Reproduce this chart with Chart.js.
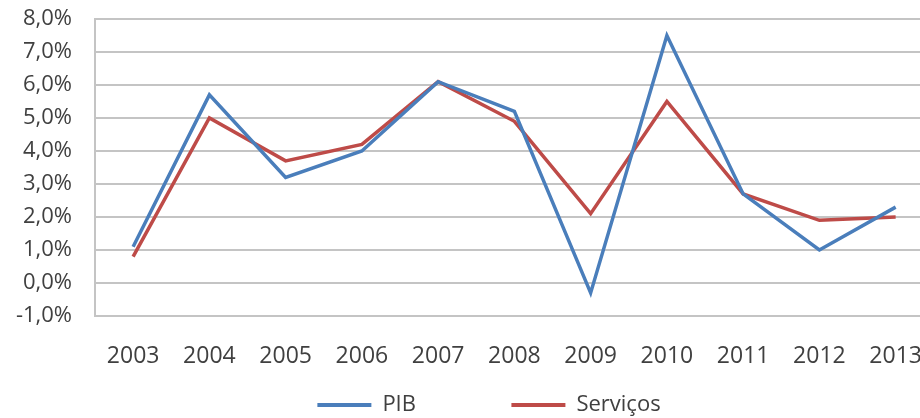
<!DOCTYPE html>
<html>
<head>
<meta charset="utf-8">
<script src="https://cdn.jsdelivr.net/npm/chart.js@4"></script>
<style>
  html, body { margin: 0; padding: 0; background: #fff; overflow: hidden; }
  #wrap { width: 941px; height: 418px; }
</style>
</head>
<body>
<div id="wrap"><canvas id="chart" width="941" height="418"></canvas></div>
<script>
const years = ['2003', '2004', '2005', '2006', '2007', '2008', '2009', '2010', '2011', '2012', '2013'];
const pib = [1.1, 5.7, 3.2, 4.0, 6.1, 5.2, -0.3, 7.5, 2.7, 1.0, 2.3];
const servicos = [0.8, 5.0, 3.7, 4.2, 6.1, 4.9, 2.1, 5.5, 2.7, 1.9, 2.0];
const yTicks = [-1, 0, 1, 2, 3, 4, 5, 6, 7, 8];

const fmt = (v) => v.toFixed(1).replace('.', ',') + '%';
const textColor = '#404040';
const gridColor = '#c4c4c4';
const yFont = { family: 'Open Sans', size: 22 };
const xFont = { family: 'Open Sans', size: 23 };

// the original legend sits a bit right of the canvas centre
const legendNudge = {
  id: 'legendNudge',
  afterLayout(chart) {
    chart.legend.left += 19;
    chart.legend.right += 19;
  },
};

const ctx = document.getElementById('chart').getContext('2d');
new Chart(ctx, {
  type: 'line',
  data: {
    labels: years,
    datasets: [
      {
        label: 'PIB',
        data: pib,
        borderColor: '#4a7ebb',
        backgroundColor: '#4a7ebb',
        borderWidth: 3.5,
        pointRadius: 0,
        tension: 0,
      },
      {
        label: 'Serviços',
        data: servicos,
        borderColor: '#be4b48',
        backgroundColor: '#be4b48',
        borderWidth: 3.5,
        pointRadius: 0,
        tension: 0,
      },
    ],
  },
  plugins: [legendNudge],
  options: {
    responsive: false,
    animation: false,
    layout: { padding: { top: 0, right: 1, left: 0, bottom: -8 } },
    plugins: {
      tooltip: { enabled: false },
      legend: {
        position: 'bottom',
        labels: {
          font: { family: 'Open Sans', size: 22 },
          color: textColor,
          boxWidth: 54,
          boxHeight: 4,
          padding: 4,
          // wide gap after the first entry, like the original
          generateLabels: (chart) =>
            Chart.defaults.plugins.legend.labels.generateLabels(chart).map((l, i) => ({
              ...l,
              lineWidth: 0,
              text: i === 0 ? l.text + ' '.repeat(16) : l.text,
            })),
        },
      },
    },
    scales: {
      x: {
        offset: true,
        grid: { display: false },
        border: { display: false },
        afterFit: (scale) => { scale.height = 74; },
        ticks: { font: xFont, color: textColor, padding: 19, maxRotation: 0, autoSkip: false },
      },
      y: {
        min: -1,
        max: 8,
        afterFit: (scale) => {
          scale.width = 95;
          scale.paddingTop = 19;
          scale.paddingBottom = 0;
        },
        afterBuildTicks: (scale) => { scale.ticks = yTicks.map((v) => ({ value: v })); },
        grid: { color: gridColor, lineWidth: 2, drawTicks: false },
        border: { display: true, color: gridColor, width: 2 },
        ticks: { font: yFont, color: textColor, padding: 23, autoSkip: false, callback: (v) => fmt(v) },
      },
    },
  },
});
</script>
</body>
</html>
